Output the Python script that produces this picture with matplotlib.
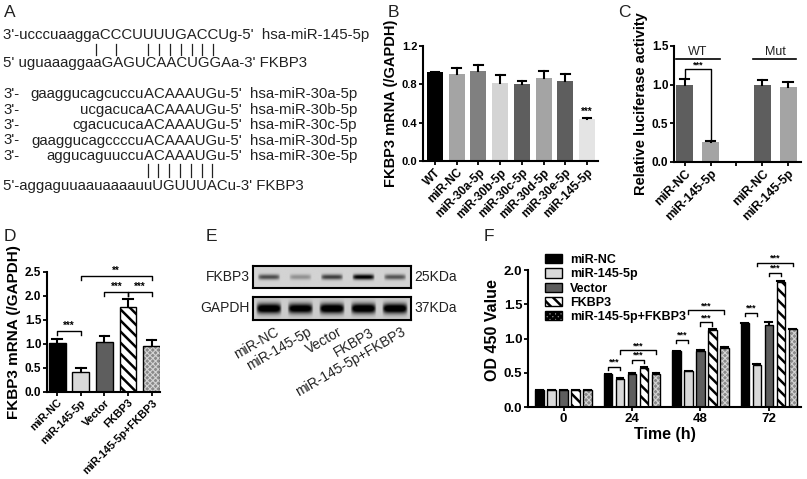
import matplotlib
matplotlib.use('Agg')
import matplotlib.pyplot as plt
import numpy as np
from matplotlib.patches import Patch
from matplotlib.font_manager import FontProperties

plt.rcParams['font.family'] = 'Liberation Sans'
plt.rcParams['hatch.linewidth'] = 1.8

# ---------------- data ----------------
# A: sequence alignments
a_mir145 = "3'-ucccuaaggaCCCUUUUGACCUg-5'"
a_target1 = "5' uguaaaggaaGAGUCAACUGGAa-3'"
a_pairs1 = [0, 2, 5, 6, 7, 8, 9, 10, 11]
a_mir30_names = ['hsa-miR-30a-5p', 'hsa-miR-30b-5p', 'hsa-miR-30c-5p', 'hsa-miR-30d-5p', 'hsa-miR-30e-5p']
a_mir30_tails = ['gaaggucagcuccu', 'ucgacuca', 'cgacucuca', 'gaaggucagccccu', 'aggucaguuccu']
a_seed = "ACAAAUGu-5'"
a_target2 = "5'-aggaguuaauaaaauuUGUUUACu-3'"
a_pairs2 = [0, 1, 2, 3, 4, 5, 6]

# B
b_labels = ['WT', 'miR-NC', 'miR-30a-5p', 'miR-30b-5p', 'miR-30c-5p', 'miR-30d-5p', 'miR-30e-5p', 'miR-145-5p']
b_values = [0.925, 0.905, 0.935, 0.81, 0.80, 0.865, 0.83, 0.44]
b_errors = [0.005, 0.07, 0.065, 0.09, 0.03, 0.07, 0.08, 0.01]
b_colors = ['#000000', '#a4a4a4', '#808080', '#d4d4d4', '#5e5e5e', '#a4a4a4', '#5e5e5e', '#e4e4e4']

# C
c_labels = ['miR-NC', 'miR-145-5p', '', 'miR-NC', 'miR-145-5p']
c_pos = [0, 1, 3, 4]
c_values = [1.0, 0.26, 1.0, 0.97]
c_errors = [0.075, 0.01, 0.065, 0.06]
c_colors = ['#5e5e5e', '#a4a4a4', '#5e5e5e', '#a4a4a4']

# D / F groups
groups = ['miR-NC', 'miR-145-5p', 'Vector', 'FKBP3', 'miR-145-5p+FKBP3']
g_face = ['#000000', '#d9d9d9', '#5e5e5e', '#ffffff', '#8a8a8a']
g_hatch = [None, None, None, '\\\\\\', 'xxxxxx']
g_hatchcol = ['black', 'black', 'black', 'black', '#d4d4d4']

d_values = [1.02, 0.42, 1.04, 1.78, 0.96]
d_errors = [0.08, 0.08, 0.12, 0.16, 0.13]

# E: band intensities
e_fkbp3 = [0.62, 0.3, 0.68, 1.0, 0.58]
e_gapdh = [1.0, 0.95, 1.0, 1.0, 1.0]

# F
f_times = ['0', '24', '48', '72']
f_values = [
    [0.25, 0.475, 0.815, 1.22],   # miR-NC
    [0.25, 0.41, 0.52, 0.615],    # miR-145-5p
    [0.25, 0.485, 0.82, 1.195],   # Vector
    [0.25, 0.575, 1.125, 1.825],  # FKBP3
    [0.25, 0.485, 0.865, 1.135],  # miR-145-5p+FKBP3
]
f_errors = [
    [0.005, 0.01, 0.01, 0.01],
    [0.005, 0.01, 0.01, 0.01],
    [0.005, 0.01, 0.01, 0.05],
    [0.005, 0.01, 0.01, 0.01],
    [0.005, 0.01, 0.01, 0.01],
]

W, H = 807, 479
fig = plt.figure(figsize=(W / 100, H / 100), dpi=100)
fig.patch.set_facecolor('white')


def px_axes(x0, y0, x1, y1):
    ax = fig.add_axes([x0 / W, 1 - y1 / H, (x1 - x0) / W, (y1 - y0) / H])
    ax.patch.set_alpha(0)
    return ax


def style(ax, ysize=8):
    for s in ['top', 'right']:
        ax.spines[s].set_visible(False)
    for s in ['left', 'bottom']:
        ax.spines[s].set_linewidth(1.5)
    ax.tick_params(width=1.3, length=3, pad=1)
    ax.tick_params(axis='y', labelsize=ysize)
    for lab in ax.get_yticklabels():
        lab.set_fontweight('bold')


def err_up(ax, x, tops, errs, cap):
    for xi, t, e in zip(x, tops, errs):
        ax.plot([xi, xi], [t, t + e], color='black', lw=1.5, zorder=4)
        ax.plot([xi - cap, xi + cap], [t + e, t + e], color='black', lw=1.5, zorder=4)


def bracket(ax, x1, x2, y, y1, y2, txt, size=7):
    ax.plot([x1, x1, x2, x2], [y1, y, y, y2], color='black', lw=1, clip_on=False)
    ax.text((x1 + x2) / 2, y, txt, ha='center', va='bottom', fontsize=size, fontweight='bold')


def hatched_bar(ax, x, h, w, face, hatch, hcol):
    bars = ax.bar(x, h, w, color=face, edgecolor=hcol, hatch=hatch, linewidth=0)
    if hatch and 'x' in hatch:
        for p in bars:
            if hasattr(p, 'set_hatch_linewidth'):
                p.set_hatch_linewidth(0.8)
    ax.bar(x, h, w, fill=False, edgecolor='black', linewidth=1.0)


# ---------------- overlay for panel A / E text ----------------
ov = fig.add_axes([0, 0, 1, 1])
ov.set_xlim(0, W)
ov.set_ylim(H, 0)
ov.axis('off')

for lab, (x, y) in zip('ABCDEF', [(4, 12), (388, 12), (618, 12), (4, 236), (206, 236), (484, 236)]):
    ov.text(x, y, lab, fontsize=12.5, ha='left', va='center', color='#222222')

fs = 10.8
fp = FontProperties(family='Liberation Sans', size=fs)
renderer = fig.canvas.get_renderer()


def tw(s):
    return renderer.get_text_width_height_descent(s, fp, ismath=False)[0]


tc = '#222222'
x0 = 3
ov.text(x0, 35, a_mir145 + '  hsa-miR-145-5p', fontproperties=fp, va='center', color=tc)
ov.text(x0, 63, a_target1 + ' FKBP3', fontproperties=fp, va='center', color=tc)
for i in a_pairs1:
    k = 12 + i
    cx = x0 + (tw(a_mir145[:k]) + tw(a_mir145[:k + 1])) / 2
    ov.plot([cx, cx], [44, 55], color=tc, lw=0.9)

xu = x0 + tw(a_target2[:18])
rows_y = [94, 109.5, 125, 140.5, 156]
for y, tail, name in zip(rows_y, a_mir30_tails, a_mir30_names):
    ov.text(x0, y, "3'-", fontproperties=fp, va='center', color=tc)
    ov.text(xu, y, tail, fontproperties=fp, va='center', ha='right', color=tc)
    ov.text(xu, y, a_seed + '  ' + name, fontproperties=fp, va='center', ha='left', color=tc)
ov.text(x0, 186, a_target2 + ' FKBP3', fontproperties=fp, va='center', color=tc)
for i in a_pairs2:
    k = 18 + i
    cx = x0 + (tw(a_target2[:k]) + tw(a_target2[:k + 1])) / 2
    ov.plot([cx, cx], [164, 177], color=tc, lw=0.9)

# ---------------- B ----------------
axb = px_axes(423, 46, 598, 161)
xb = np.arange(len(b_labels))
axb.bar(xb, b_values, 0.74, color=b_colors)
err_up(axb, xb, b_values, b_errors, 0.2)
axb.text(xb[-1], b_values[-1] + b_errors[-1] + 0.01, '***', ha='center', va='bottom', fontsize=7, fontweight='bold')
axb.set_xlim(-0.55, 7.5)
axb.set_ylim(0, 1.2)
axb.set_yticks([0, 0.4, 0.8, 1.2])
axb.set_yticklabels(['0.0', '0.4', '0.8', '1.2'])
axb.set_xticks(xb)
axb.set_xticklabels(b_labels, rotation=45, ha='right', rotation_mode='anchor', fontsize=8.5, fontweight='bold')
axb.set_ylabel('FKBP3 mRNA (/GAPDH)', fontsize=10.5, fontweight='bold', labelpad=3)
style(axb, 8)

# ---------------- C ----------------
axc = px_axes(674, 46, 801, 162)
axc.bar(c_pos, c_values, 0.66, color=c_colors)
err_up(axc, c_pos, c_values, c_errors, 0.18)
axc.set_xlim(-0.42, 4.5)
axc.set_ylim(0, 1.5)
axc.set_yticks([0, 0.5, 1.0, 1.5])
axc.set_yticklabels(['0.0', '0.5', '1.0', '1.5'])
axc.set_xticks(range(5))
axc.set_xticklabels(c_labels, rotation=45, ha='right', rotation_mode='anchor', fontsize=8.8, fontweight='bold')
axc.set_ylabel('Relative luciferase activity', fontsize=10.5, fontweight='bold', labelpad=3)
axc.plot([-0.33, 1.35], [1.33, 1.33], color='black', lw=1.2)
axc.text(0.5, 1.35, 'WT', ha='center', va='bottom', fontsize=9, color='#222222')
axc.plot([2.65, 4.3], [1.33, 1.33], color='black', lw=1.2)
axc.text(3.5, 1.35, 'Mut', ha='center', va='bottom', fontsize=9, color='#222222')
bracket(axc, 0, 1, 1.2, 1.1, 0.29, '***', size=6.5)
style(axc, 8.5)

# ---------------- D ----------------
axd = px_axes(47, 272, 160, 392)
xd = np.arange(len(groups))
for i in range(len(groups)):
    hatched_bar(axd, xd[i], d_values[i], 0.71, g_face[i], g_hatch[i], g_hatchcol[i])
err_up(axd, xd, d_values, d_errors, 0.2)
axd.set_xlim(-0.43, 4.35)
axd.set_ylim(0, 2.5)
axd.set_yticks([0, 0.5, 1.0, 1.5, 2.0, 2.5])
axd.set_yticklabels(['0.0', '0.5', '1.0', '1.5', '2.0', '2.5'])
axd.set_xticks(xd)
axd.set_xticklabels(groups, rotation=45, ha='right', rotation_mode='anchor', fontsize=7.8, fontweight='bold')
axd.set_ylabel('FKBP3 mRNA (/GAPDH)', fontsize=11, fontweight='bold', labelpad=3)
bracket(axd, 0, 1, 1.27, 1.19, 1.19, '***')
bracket(axd, 1, 4, 2.42, 2.34, 2.34, '**')
bracket(axd, 2, 3, 2.08, 2.0, 2.0, '***')
bracket(axd, 3, 4, 2.08, 2.0, 2.0, '***')
style(axd, 8.5)

# ---------------- E ----------------
def blot(ax, levels, band_h, half_w, vmax):
    xs = np.linspace(0, 5, 400)
    ys = np.linspace(0, 1, 60)
    img = np.zeros((len(ys), len(xs)))
    for i, lv in enumerate(levels):
        hx = np.clip(1 - ((xs - (i + 0.5)) / half_w) ** 6, 0, 1)
        vy = np.exp(-((ys - 0.5) / band_h) ** 2)
        img += lv * np.outer(vy, hx)
    ax.imshow(img, cmap='gray_r', vmin=-0.2, vmax=vmax, extent=[0, 5, 0, 1],
              aspect='auto', interpolation='bilinear')
    ax.set_xticks([])
    ax.set_yticks([])
    for s in ax.spines.values():
        s.set_linewidth(1.5)


ax_e1 = px_axes(253, 266, 411, 288)
blot(ax_e1, e_fkbp3, 0.12, 0.36, 0.95)
ax_e2 = px_axes(253, 297, 411, 320)
blot(ax_e2, e_gapdh, 0.22, 0.41, 0.8)
ov.text(250, 277, 'FKBP3', fontsize=10, ha='right', va='center', color=tc)
ov.text(250, 308.5, 'GAPDH', fontsize=10, ha='right', va='center', color=tc)
ov.text(414, 277, '25KDa', fontsize=10, ha='left', va='center', color=tc)
ov.text(414, 308.5, '37KDa', fontsize=10, ha='left', va='center', color=tc)
lane_x = 253 + (np.arange(5) + 0.5) * (411 - 253) / 5
for xl, name in zip(lane_x, groups):
    ov.text(xl + 6, 325, name, fontsize=10, rotation=30, ha='right', va='top',
            rotation_mode='anchor', color=tc)

# ---------------- F ----------------
axf = px_axes(528, 253, 801, 407)
xf = np.arange(len(f_times))
offs = np.array([-0.35, -0.175, 0, 0.175, 0.35])
for i in range(len(groups)):
    hatched_bar(axf, xf + offs[i], f_values[i], 0.125, g_face[i], g_hatch[i], g_hatchcol[i])
    err_up(axf, xf + offs[i], f_values[i], f_errors[i], 0.05)
axf.set_xlim(-0.52, 3.47)
axf.set_ylim(0, 2.25)
axf.spines['left'].set_bounds(0, 2.0)
axf.set_yticks([0, 0.5, 1.0, 1.5, 2.0])
axf.set_yticklabels(['0.0', '0.5', '1.0', '1.5', '2.0'])
axf.set_xticks(xf)
axf.set_xticklabels(f_times, fontsize=9.5, fontweight='bold')
axf.set_xlabel('Time (h)', fontsize=11.5, fontweight='bold', labelpad=2)
axf.set_ylabel('OD 450 Value', fontsize=11.5, fontweight='bold', labelpad=3)
# significance brackets: (group, bar a, bar b, height)
f_sig = [(1, 0, 1, 0.585), (1, 2, 3, 0.69), (1, 1, 4, 0.83),
         (2, 0, 1, 0.98), (2, 2, 3, 1.24), (2, 1, 4, 1.41),
         (3, 0, 1, 1.38), (3, 2, 3, 1.96), (3, 1, 4, 2.11)]
for g, a, b, y in f_sig:
    bracket(axf, g + offs[a], g + offs[b], y, y - 0.05, y - 0.05, '***', size=6.5)
handles = [Patch(facecolor=g_face[i], edgecolor='black', hatch=g_hatch[i], linewidth=1.0) for i in range(5)]
axf.legend(handles, groups, loc='upper left', bbox_to_anchor=(0.03, 1.05), frameon=False,
           prop={'weight': 'bold', 'size': 9}, handlelength=1.4, handleheight=0.75,
           labelspacing=0.18, handletextpad=0.6, borderpad=0.2)
style(axf, 9.5)

fig.savefig('out.png', dpi=100, facecolor='white')
